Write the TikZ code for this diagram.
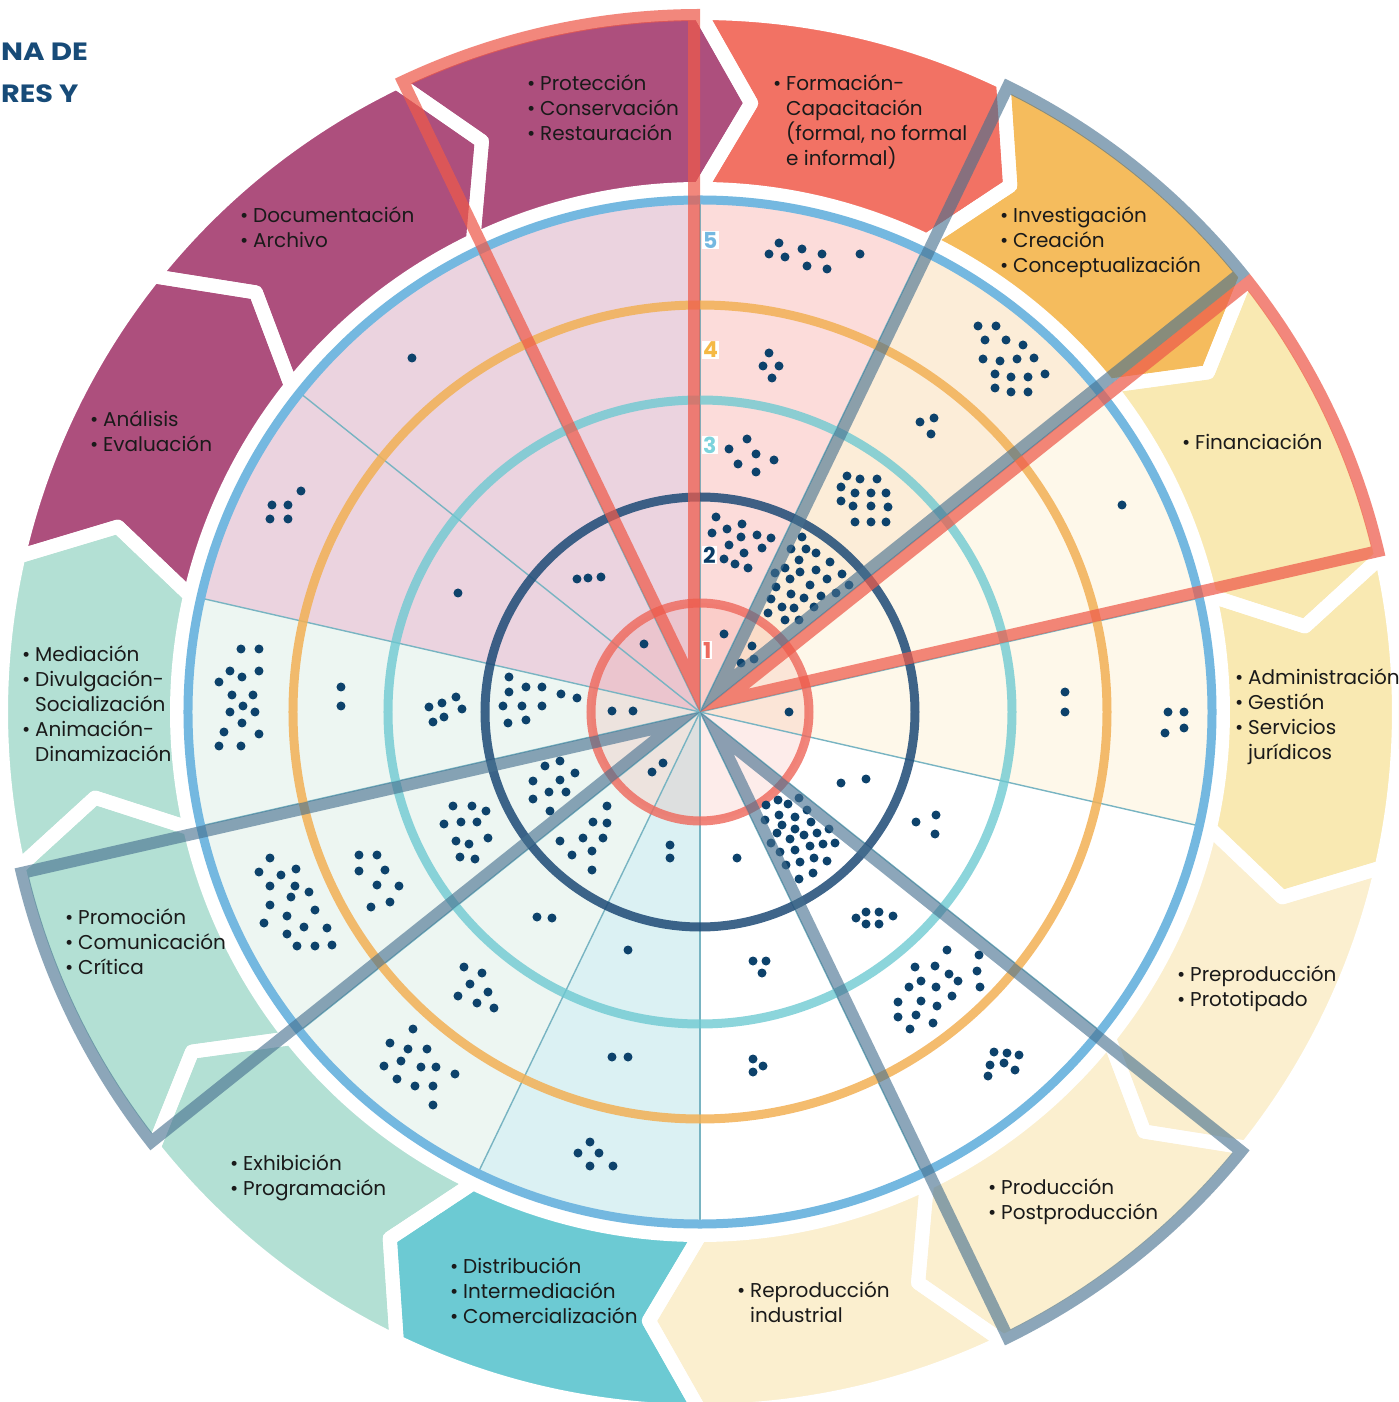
\documentclass[tikz,border=0pt]{standalone}
\usepackage{fontspec}
\setmainfont{Poppins}
\definecolor{sPurple}{HTML}{AD4F7D}
\definecolor{sForm}{HTML}{F27264}
\definecolor{sInv}{HTML}{F5BC5D}
\definecolor{sFin}{HTML}{F9E9B2}
\definecolor{sProd}{HTML}{FBEFCF}
\definecolor{sDist}{HTML}{6CCAD3}
\definecolor{sMint}{HTML}{B3E0D4}
\definecolor{wPink}{HTML}{EBD3DF}
\definecolor{wForm}{HTML}{FCDCDA}
\definecolor{wInv}{HTML}{FCEDD8}
\definecolor{wFin}{HTML}{FEF8EA}
\definecolor{wDist}{HTML}{DBF1F3}
\definecolor{wMint}{HTML}{EDF6F2}
\definecolor{ringBlue}{HTML}{74B8E0}
\definecolor{ringOrange}{HTML}{F2B055}
\definecolor{ringTeal}{HTML}{6CC9D1}
\definecolor{ringNavy}{HTML}{1D4A76}
\definecolor{ringRed}{HTML}{EE6A5E}
\definecolor{numOrange}{HTML}{F5B945}
\definecolor{numTeal}{HTML}{7DD3DC}
\definecolor{numNavy}{HTML}{0B3D66}
\definecolor{dotc}{HTML}{0D426B}
\definecolor{thinc}{HTML}{78B4C2}
\definecolor{hlRc}{HTML}{EE5A4A}
\definecolor{hlGc}{HTML}{46708F}
\definecolor{titlec}{HTML}{174B78}
\definecolor{txtc}{HTML}{1A1A1A}
\newcommand{\itm}[1]{\makebox[13pt][l]{\textbullet}#1}
\newcommand{\cnt}[1]{\hspace*{13pt}#1}
\newcommand{\lbl}[4]{\node[lblstyle] (#1) at (#2,#3) {\parbox[t]{8cm}{\raggedright\fontsize{20}{25}\selectfont #4}};}
\begin{document}
\begin{tikzpicture}[x=1pt,y=1pt,
  lblstyle/.style={anchor=base west, inner sep=0pt, text=txtc},
  numlbl/.style={anchor=west, fill=white, inner sep=1pt, font=\bfseries\fontsize{22}{22}\selectfont},
  titlestyle/.style={anchor=base west, inner sep=0pt, text=titlec, font=\bfseries\fontsize{25}{28}\selectfont},
  thinline/.style={draw=thinc, line width=1.4pt},
  hlR/.style={draw=hlRc, draw opacity=0.72},
  hlG/.style={draw=hlGc, draw opacity=0.62},
  ringstyle/.style={line width=9pt}]
\useasboundingbox (-700,-690) rectangle (698,712);
\clip (-700,-690) rectangle (698,712);
\def\Ro{699}\def\Ri{523}\def\Rm{611}\def\tip{4.8}
% outer chevron segments
\foreach \a/\b/\c in {115.714/90/sPurple, 141.429/115.714/sPurple, 167.143/141.429/sPurple,
  192.857/167.143/sMint, 218.571/192.857/sMint, 244.286/218.571/sMint, 270/244.286/sDist,
  295.714/270/sProd, 321.429/295.714/sProd, 347.143/321.429/sProd, 372.857/347.143/sFin,
  38.571/12.857/sFin, 64.286/38.571/sInv, 90/64.286/sForm}
  {\fill[\c] (\a:\Ro) arc[start angle=\a, end angle=\b, radius=\Ro] -- ({\b-\tip}:\Rm) -- (\b:\Ri)
     arc[start angle=\b, end angle=\a, radius=\Ri] -- ({\a-\tip}:\Rm) -- cycle;}
\foreach \a/\b in {115.714/90, 141.429/115.714, 167.143/141.429, 192.857/167.143, 218.571/192.857,
  244.286/218.571, 270/244.286, 295.714/270, 321.429/295.714, 347.143/321.429, 372.857/347.143,
  38.571/12.857, 64.286/38.571, 90/64.286}
  {\draw[white, line width=14pt, line join=round] (\a:\Ro) arc[start angle=\a, end angle=\b, radius=\Ro] -- ({\b-\tip}:\Rm) -- (\b:\Ri)
     arc[start angle=\b, end angle=\a, radius=\Ri] -- ({\a-\tip}:\Rm) -- cycle;}
% inner wedges
\foreach \a/\b/\c in {167.143/90/wPink, 90/64.286/wForm, 64.286/38.571/wInv, 38.571/-12.857/wFin,
  244.286/167.143/wMint, 270/244.286/wDist}
  {\fill[\c] (0,0) -- (\a:512) arc[start angle=\a, end angle=\b, radius=512] -- cycle;}
\fill[ringRed, opacity=0.13] (0,0) circle (109);
\foreach \a in {90,115.714,141.429,167.143,192.857,218.571,244.286,270,295.714,321.429,347.143,12.857,38.571,64.286}
  {\draw[thinline] (0,0) -- (\a:512);}
% rings
\draw[ringstyle, ringBlue] (0,0) circle (512);
\draw[ringstyle, ringOrange, opacity=0.85] (0,0) circle (407);
\draw[ringstyle, ringTeal, opacity=0.78] (0,0) circle (312);
\draw[ringstyle, ringNavy, opacity=0.85] (0,0) circle (215);
\draw[ringstyle, ringRed, opacity=0.82] (0,0) circle (109);
% dots
\begin{scope}[shift={(-700pt,712pt)}, y=-1pt]
\foreach \x/\y in {779/243,769/254,785/257,802/249,822/254,807/266,827/269,860/254,
 769/353,763/366,779/366,772/378,
 747/439,729/449,756/454,774/460,738/464,756/472,
 716/517,712/533,727/529,742/524,757/535,771/538,741/537,729/545,762/548,744/553,724/559,735/564,748/568,
 724/634,752/646,741/663,754/659,
 978/326,996/326,985/340,1006/340,1023/345,983/359,1000/361,1017/359,1034/358,995/374,1011/377,1028/377,1045/374,995/388,1011/392,1028/392,
 920/422,934/418,931/434,
 847/476,860/479,877/479,841/487,855/493,871/493,886/493,841/501,853/506,871/506,888/507,855/522,871/522,886/522,
 802/537,791/549,806/549,816/553,799/560,830/562,785/568,800/572,816/570,775/573,790/579,810/585,827/579,842/574,776/587,791/594,804/598,821/596,836/593,849/585,771/599,782/607,794/608,814/607,768/613,785/620,799/620,
 1122/505,1065/692,1065/712,1168/712,1184/712,1165/733,1184/728,789/712,
 841/783,866/779,916/822,936/815,935/834,979/955,977/971,980/987,
 766/805,778/800,788/804,799/798,807/810,765/820,779/815,795/817,782/825,811/822,829/829,795/829,804/835,817/833,777/833,771/843,790/839,810/846,823/844,835/843,780/852,795/850,814/858,827/861,786/865,800/862,813/873,799/879,
 856/918,866/912,879/912,866/924,879/924,893/916,
 947/950,915/967,935/966,949/974,958/981,921/981,909/987,936/987,952/996,898/1002,921/1001,937/1006,898/1017,916/1015,933/1023,910/1029,
 994/1052,1007/1053,1019/1055,990/1065,1004/1063,1015/1070,988/1076,
 737/858,753/961,766/961,762/973,753/1059,763/1066,753/1072,
 670/845,670/858,628/950,612/1057,628/1057,590/1142,578/1153,599/1153,590/1166,613/1166,
 663/763,652/772,
 607/806,593/822,607/823,583/838,603/838,560/841,592/851,572/855,592/870,
 537/917,552/918,
 464/967,482/973,470/984,458/996,488/992,477/1003,494/1008,
 413/1029,390/1043,408/1049,427/1049,384/1066,401/1061,421/1067,436/1067,455/1074,397/1079,415/1086,433/1086,433/1105,
 545/766,560/761,575/773,533/781,560/780,549/792,566/792,533/799,550/811,
 453/806,472/806,486/811,444/824,461/822,477/822,456/841,469/844,488/838,460/857,475/859,
 359/855,377/855,359/871,385/870,377/885,399/886,371/907,390/902,
 270/858,259/872,281/875,296/869,270/886,295/886,309/892,291/897,270/905,315/910,264/923,287/916,304/927,327/928,287/934,297/946,315/946,332/945,
 241/649,259/649,230/671,259/671,242/677,219/682,232/695,253/695,243/706,230/712,255/712,242/723,224/732,259/734,219/746,241/746,
 341/687,341/706,
 429/707,442/703,456/697,462/709,433/722,444/717,
 509/677,509/692,526/687,542/687,561/694,577/698,503/706,522/706,542/706,508/723,526/720,
 612/711,633/711,
 412/358,301/491,272/505,288/505,270/519,288/519,458/593,577/579,588/578,601/577,644/644}
 {\fill[dotc] (\x,\y) circle (4.5);}
\end{scope}
% highlight wedges
\foreach \a/\b/\c in {115.714/90/hlR, 38.571/12.857/hlR, 64.286/38.571/hlG, 321.429/295.714/hlG, 218.571/192.857/hlG}
 {\begin{scope}
   \clip (0,0) -- (\a:703) arc[start angle=\a, end angle=\b, radius=703] -- cycle;
   \draw[\c, line width=24pt, line join=miter] (0,0) -- (\a:703) arc[start angle=\a, end angle=\b, radius=703] -- cycle;
  \end{scope}}
% level numbers
\node[numlbl, text=ringBlue] (n5) at (2,472) {5};
\node[numlbl, text=numOrange] (n4) at (2,362) {4};
\node[numlbl, text=numTeal] (n3) at (2,267) {3};
\node[numlbl, text=numNavy] (n2) at (2,157) {2};
\node[numlbl, text=ringRed] (n1) at (2,62) {1};
% title fragment
\node[titlestyle] (t1) at (-699,651) {\scalebox{1.17}[1]{NA DE}};
\node[titlestyle] (t2) at (-699,609) {\scalebox{1.15}[1]{RES Y}};
% labels
\lbl{lProt}{-173}{621}{\itm{Protección}\\\itm{Conservación}\\\itm{Restauración}}
\lbl{lForm}{73}{621}{\itm{Formación-}\\\cnt{Capacitación}\\\cnt{(formal, no formal}\\\cnt{e informal)}}
\lbl{lInv}{300}{489}{\itm{Investigación}\\\itm{Creación}\\\itm{Conceptualización}}
\lbl{lFin}{482}{262}{\itm{Financiación}}
\lbl{lAdm}{535}{27}{\itm{Administración}\\\itm{Gestión}\\\itm{Servicios}\\\cnt{jurídicos}}
\lbl{lPre}{477}{-269}{\itm{Preproducción}\\\itm{Prototipado}}
\lbl{lProd}{288}{-482}{\itm{Producción}\\\itm{Postproducción}}
\lbl{lRep}{37}{-585}{\itm{Reproducción}\\\cnt{industrial}}
\lbl{lDist}{-250}{-561}{\itm{Distribución}\\\itm{Intermediación}\\\itm{Comercialización}}
\lbl{lExh}{-470}{-458}{\itm{Exhibición}\\\itm{Programación}}
\lbl{lProm}{-635}{-212}{\itm{Promoción}\\\itm{Comunicación}\\\itm{Crítica}}
\lbl{lMed}{-678}{50}{\itm{Mediación}\\\itm{Divulgación-}\\\cnt{Socialización}\\\itm{Animación-}\\\cnt{Dinamización}}
\lbl{lAna}{-610}{285}{\itm{Análisis}\\\itm{Evaluación}}
\lbl{lDoc}{-460}{489}{\itm{Documentación}\\\itm{Archivo}}
\end{tikzpicture}
\end{document}
